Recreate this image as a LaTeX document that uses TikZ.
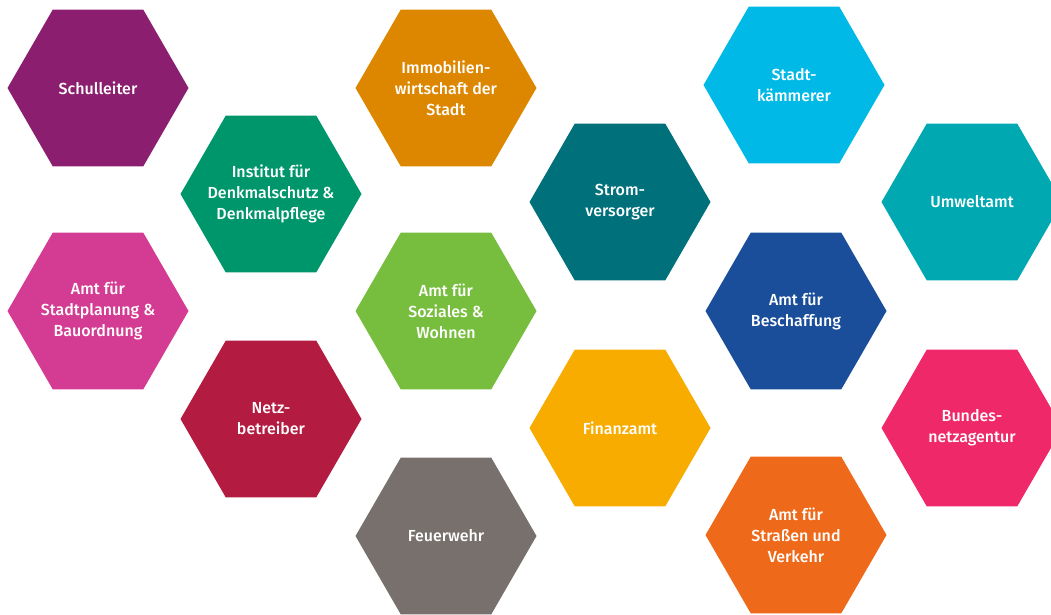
\documentclass[tikz,border=0pt]{standalone}
\usepackage{fontspec}
\setmainfont{Fira Sans}[UprightFont={* Medium}]
\usetikzlibrary{shapes.geometric}

\definecolor{schul}{RGB}{139,30,110}
\definecolor{denkmal}{RGB}{0,150,107}
\definecolor{planung}{RGB}{212,59,146}
\definecolor{netz}{RGB}{179,27,64}
\definecolor{immo}{RGB}{221,135,0}
\definecolor{sozial}{RGB}{119,190,62}
\definecolor{feuer}{RGB}{119,112,108}
\definecolor{strom}{RGB}{0,112,122}
\definecolor{finanz}{RGB}{248,172,0}
\definecolor{kaemmerer}{RGB}{0,185,230}
\definecolor{beschaff}{RGB}{26,78,154}
\definecolor{verkehr}{RGB}{238,106,26}
\definecolor{umwelt}{RGB}{0,169,178}
\definecolor{bnetz}{RGB}{238,40,105}

\begin{document}
\begin{tikzpicture}[x=1pt,y=-1pt,
        hexa/.style={regular polygon,regular polygon sides=6,minimum size=181pt,
            inner sep=-12pt,text=white,align=center,
            font=\fontsize{16}{21}\selectfont}]
    \useasboundingbox (0,0) rectangle (1051,615);

	% erste und zweite Spalte
	\node[hexa,fill=schul] (schul) at (98,88) {Schulleiter};
    \node[hexa,fill=planung] (planung) at (98,311) {Amt für\\Stadtplanung \&\\Bauordnung};
	\node[hexa,fill=denkmal] (denkmal) at (271,194) {Institut für\\Denkmalschutz \&\\Denkmalpflege};
    \node[hexa,fill=netz] (netz) at (271,419) {Netz-\\betreiber};

	% dritte und vierte Spalte
	\node[hexa,fill=immo] (immo) at (446,88) {Immobilien-\\wirtschaft der\\Stadt};
    \node[hexa,fill=sozial] (sozial) at (446,311) {Amt für\\Soziales \&\\Wohnen};
    \node[hexa,fill=feuer] (feuer) at (446,536) {Feuerwehr};
	\node[hexa,fill=strom] (strom) at (620,202) {Strom-\\versorger};
    \node[hexa,fill=finanz] (finanz) at (620,428) {Finanzamt};

	% fuenfte und sechste Spalte
	\node[hexa,fill=kaemmerer] (kaemmerer) at (794,85) {Stadt-\\kämmerer};
    \node[hexa,fill=beschaff] (beschaff) at (796,311) {Amt für\\Beschaffung};
    \node[hexa,fill=verkehr] (verkehr) at (796,535) {Amt für\\Straßen und\\Verkehr};
	\node[hexa,fill=umwelt] (umwelt) at (972,202) {Umweltamt};
    \node[hexa,fill=bnetz] (bnetz) at (972,428) {Bundes-\\netzagentur};
\end{tikzpicture}
\end{document}
